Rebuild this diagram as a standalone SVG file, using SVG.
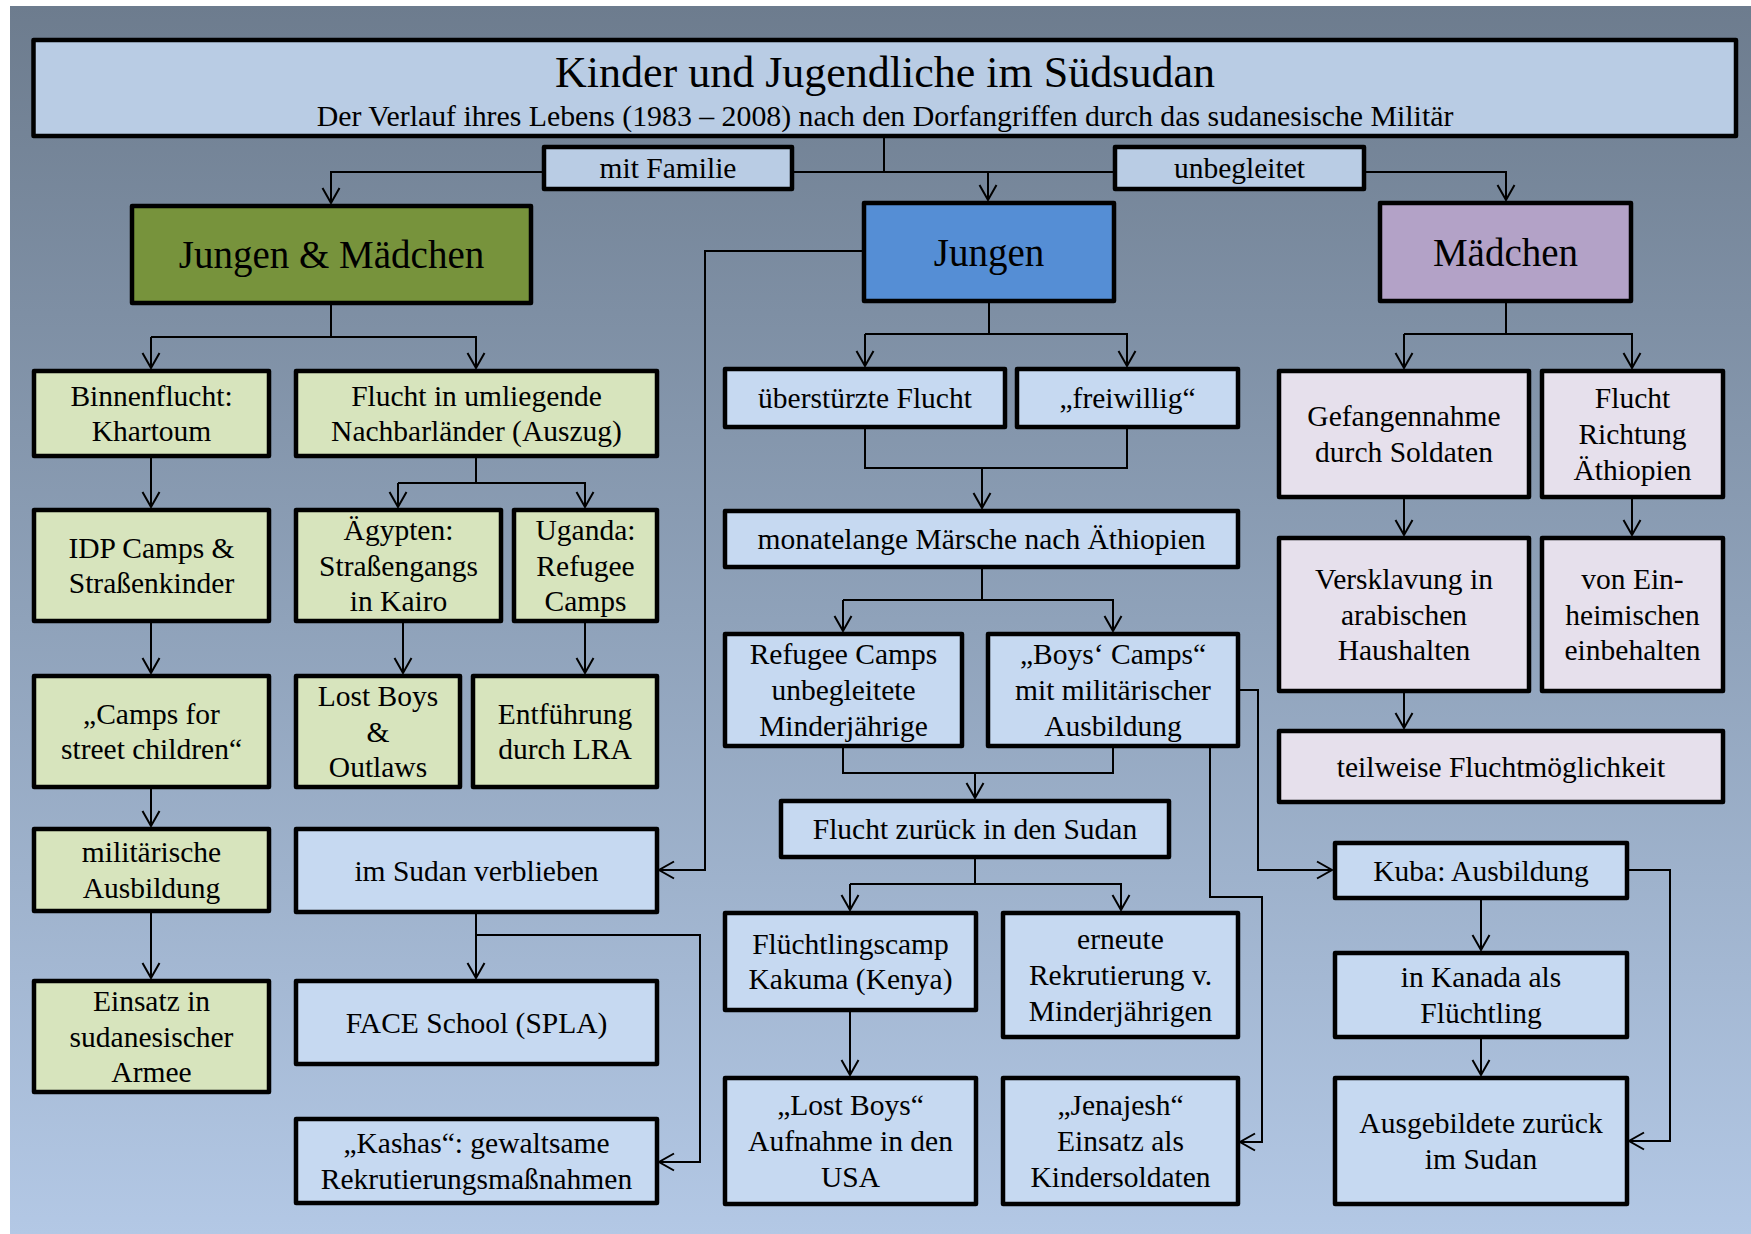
<svg xmlns="http://www.w3.org/2000/svg" width="1751" height="1234" viewBox="0 0 1751 1234">
<defs>
<linearGradient id="bg" x1="0" y1="0" x2="0" y2="1">
<stop offset="0" stop-color="#6d7c8e"/>
<stop offset="0.5" stop-color="#8fa2ba"/>
<stop offset="1" stop-color="#b3c8e5"/>
</linearGradient>
<marker id="ah" markerUnits="userSpaceOnUse" markerWidth="20" markerHeight="20" viewBox="-17 -10 20 20" refX="0" refY="0" orient="auto">
<path d="M-15,-8.5 L0,0 L-15,8.5" fill="none" stroke="#000" stroke-width="2"/>
</marker>
</defs>
<style>
.box{stroke:#000;stroke-width:4.5;stroke-linejoin:round}
.tb{fill:#b9cce4}
.bl{fill:#c6d9f1}
.gr{fill:#d7e4bd}
.pu{fill:#e6e0ec}
text{font-family:"Liberation Serif","Times New Roman",serif;font-size:29.5px;fill:#000;text-anchor:middle}
.h{font-size:39px}
.t1{font-size:44px}
.st{font-size:29.8px}
.c{fill:none;stroke:#000;stroke-width:2}
.a{marker-end:url(#ah)}
</style>
<rect x="10" y="6" width="1741" height="1228" fill="url(#bg)"/>

<g id="connectors">
<path class="c" d="M884,136 V172 M793,172 H1115"/>
<path class="c a" d="M988,172 V200"/>
<path class="c a" d="M544,172 H331 V203"/>
<path class="c a" d="M1364,172 H1506 V200"/>
<path class="c" d="M331,303 V337 H151"/>
<path class="c a" d="M151,337 V368"/>
<path class="c a" d="M331,337 H476 V368"/>
<path class="c a" d="M151,456 V507"/>
<path class="c" d="M476,456 V483 H398"/>
<path class="c a" d="M398,483 V507"/>
<path class="c a" d="M476,483 H585 V507"/>
<path class="c a" d="M151,621 V673"/>
<path class="c a" d="M403,621 V673"/>
<path class="c a" d="M585,621 V673"/>
<path class="c a" d="M151,787 V826"/>
<path class="c a" d="M151,911 V978"/>
<path class="c a" d="M864,251 H705 V870 H659"/>
<path class="c a" d="M476,912 V978"/>
<path class="c a" d="M476,935 H700 V1162 H659"/>
<path class="c" d="M989,301 V334 H865"/>
<path class="c a" d="M865,334 V366"/>
<path class="c a" d="M989,334 H1127 V366"/>
<path class="c" d="M865,427 V468 H1127 V427"/>
<path class="c a" d="M982,468 V508"/>
<path class="c" d="M982,567 V600 H843"/>
<path class="c a" d="M843,600 V631"/>
<path class="c a" d="M982,600 H1113 V631"/>
<path class="c" d="M843,746 V773 H1113 V746"/>
<path class="c a" d="M975,773 V798"/>
<path class="c" d="M975,857 V884 H850"/>
<path class="c a" d="M850,884 V910"/>
<path class="c a" d="M975,884 H1121 V910"/>
<path class="c a" d="M850,1010 V1075"/>
<path class="c a" d="M1238,690 H1258 V870 H1332"/>
<path class="c a" d="M1210,746 V897 H1262 V1142 H1240"/>
<path class="c" d="M1506,301 V334 H1404"/>
<path class="c a" d="M1404,334 V368"/>
<path class="c a" d="M1506,334 H1632 V368"/>
<path class="c a" d="M1404,497 V535"/>
<path class="c a" d="M1632,497 V535"/>
<path class="c a" d="M1404,691 V728"/>
<path class="c a" d="M1481,898 V950"/>
<path class="c a" d="M1481,1037 V1075"/>
<path class="c a" d="M1627,870 H1670 V1141 H1629"/>
</g>

<g id="title">
<rect class="box tb" x="33.5" y="40" width="1702.5" height="96" stroke-width="5"/>
<text class="t1" x="885" y="87">Kinder und Jugendliche im Südsudan</text>
<text class="st" x="885" y="125.5">Der Verlauf ihres Lebens (1983 – 2008) nach den Dorfangriffen durch das sudanesische Militär</text>
</g>
<g id="mit-familie">
<rect class="box tb" x="544" y="147" width="248" height="42"/>
<text x="668" y="178">mit Familie</text>
</g>
<g id="unbegleitet">
<rect class="box tb" x="1115" y="147" width="249" height="42"/>
<text x="1239.5" y="178">unbegleitet</text>
</g>
<g id="jungen-maedchen">
<rect class="box" fill="#77933c" x="132" y="206" width="399" height="97"/>
<text class="h" x="331.5" y="268">Jungen &amp; Mädchen</text>
</g>
<g id="jungen">
<rect class="box" fill="#558ed5" x="864" y="203" width="250" height="98"/>
<text class="h" x="989" y="265.5">Jungen</text>
</g>
<g id="maedchen">
<rect class="box" fill="#b3a2c7" x="1380" y="203" width="251" height="98"/>
<text class="h" x="1505.5" y="265.5">Mädchen</text>
</g>

<g id="binnenflucht">
<rect class="box gr" x="34" y="371" width="235" height="85"/>
<text x="151.5" y="405.6">Binnenflucht:<tspan x="151.5" dy="35.7">Khartoum</tspan></text>
</g>
<g id="flucht-umliegend">
<rect class="box gr" x="296" y="371" width="361" height="85"/>
<text x="476.5" y="405.6">Flucht in umliegende<tspan x="476.5" dy="35.7">Nachbarländer (Auszug)</tspan></text>
</g>
<g id="idp">
<rect class="box gr" x="34" y="510" width="235" height="111"/>
<text x="151.5" y="557.6">IDP Camps &amp;<tspan x="151.5" dy="35.7">Straßenkinder</tspan></text>
</g>
<g id="aegypten">
<rect class="box gr" x="296" y="510" width="205" height="111"/>
<text x="398.5" y="539.8">Ägypten:<tspan x="398.5" dy="35.7">Straßengangs</tspan><tspan x="398.5" dy="35.7">in Kairo</tspan></text>
</g>
<g id="uganda">
<rect class="box gr" x="514" y="510" width="143" height="111"/>
<text x="585.5" y="539.8">Uganda:<tspan x="585.5" dy="35.7">Refugee</tspan><tspan x="585.5" dy="35.7">Camps</tspan></text>
</g>
<g id="camps-street">
<rect class="box gr" x="34" y="676" width="235" height="111"/>
<text x="151.5" y="723.6">„Camps for<tspan x="151.5" dy="35.7">street children“</tspan></text>
</g>
<g id="lost-boys-outlaws">
<rect class="box gr" x="296" y="676" width="164" height="111"/>
<text x="378" y="705.8">Lost Boys<tspan x="378" dy="35.7">&amp;</tspan><tspan x="378" dy="35.7">Outlaws</tspan></text>
</g>
<g id="entfuehrung">
<rect class="box gr" x="473" y="676" width="184" height="111"/>
<text x="565" y="723.6">Entführung<tspan x="565" dy="35.7">durch LRA</tspan></text>
</g>
<g id="militaerische">
<rect class="box gr" x="34" y="829" width="235" height="82"/>
<text x="151.5" y="862.1">militärische<tspan x="151.5" dy="35.7">Ausbildung</tspan></text>
</g>
<g id="einsatz">
<rect class="box gr" x="34" y="981" width="235" height="111"/>
<text x="151.5" y="1010.8">Einsatz in<tspan x="151.5" dy="35.7">sudanesischer</tspan><tspan x="151.5" dy="35.7">Armee</tspan></text>
</g>
<g id="im-sudan">
<rect class="box bl" x="296" y="829" width="361" height="83"/>
<text x="476.5" y="880.5">im Sudan verblieben</text>
</g>
<g id="face">
<rect class="box bl" x="296" y="981" width="361" height="83"/>
<text x="476.5" y="1032.5">FACE School (SPLA)</text>
</g>
<g id="kashas">
<rect class="box bl" x="296" y="1119" width="361" height="84"/>
<text x="476.5" y="1153.1">„Kashas“: gewaltsame<tspan x="476.5" dy="35.7">Rekrutierungsmaßnahmen</tspan></text>
</g>

<g id="ueberstuerzt">
<rect class="box bl" x="725" y="369" width="280" height="58"/>
<text x="865" y="408">überstürzte Flucht</text>
</g>
<g id="freiwillig">
<rect class="box bl" x="1017" y="369" width="221" height="58"/>
<text x="1127.5" y="408">„freiwillig“</text>
</g>
<g id="maersche">
<rect class="box bl" x="725" y="511" width="513" height="56"/>
<text x="981.5" y="549">monatelange Märsche nach Äthiopien</text>
</g>
<g id="refugee">
<rect class="box bl" x="725" y="634" width="237" height="112"/>
<text x="843.5" y="664.3">Refugee Camps<tspan x="843.5" dy="35.7">unbegleitete</tspan><tspan x="843.5" dy="35.7">Minderjährige</tspan></text>
</g>
<g id="boys-camps">
<rect class="box bl" x="988" y="634" width="250" height="112"/>
<text x="1113" y="664.3">„Boys‘ Camps“<tspan x="1113" dy="35.7">mit militärischer</tspan><tspan x="1113" dy="35.7">Ausbildung</tspan></text>
</g>
<g id="flucht-zurueck">
<rect class="box bl" x="781" y="801" width="388" height="56"/>
<text x="975" y="839">Flucht zurück in den Sudan</text>
</g>
<g id="kakuma">
<rect class="box bl" x="725" y="913" width="251" height="97"/>
<text x="850.5" y="953.6">Flüchtlingscamp<tspan x="850.5" dy="35.7">Kakuma (Kenya)</tspan></text>
</g>
<g id="erneute">
<rect class="box bl" x="1003" y="913" width="235" height="124"/>
<text x="1120.5" y="949.3">erneute<tspan x="1120.5" dy="35.7">Rekrutierung v.</tspan><tspan x="1120.5" dy="35.7">Minderjährigen</tspan></text>
</g>
<g id="lost-boys-usa">
<rect class="box bl" x="725" y="1078" width="251" height="126"/>
<text x="850.5" y="1115.3">„Lost Boys“<tspan x="850.5" dy="35.7">Aufnahme in den</tspan><tspan x="850.5" dy="35.7">USA</tspan></text>
</g>
<g id="jenajesh">
<rect class="box bl" x="1003" y="1078" width="235" height="126"/>
<text x="1120.5" y="1115.3">„Jenajesh“<tspan x="1120.5" dy="35.7">Einsatz als</tspan><tspan x="1120.5" dy="35.7">Kindersoldaten</tspan></text>
</g>

<g id="gefangennahme">
<rect class="box pu" x="1279" y="371" width="250" height="126"/>
<text x="1404" y="426.1">Gefangennahme<tspan x="1404" dy="35.7">durch Soldaten</tspan></text>
</g>
<g id="flucht-richtung">
<rect class="box pu" x="1542" y="371" width="181" height="126"/>
<text x="1632.5" y="408.3">Flucht<tspan x="1632.5" dy="35.7">Richtung</tspan><tspan x="1632.5" dy="35.7">Äthiopien</tspan></text>
</g>
<g id="versklavung">
<rect class="box pu" x="1279" y="538" width="250" height="153"/>
<text x="1404" y="588.8">Versklavung in<tspan x="1404" dy="35.7">arabischen</tspan><tspan x="1404" dy="35.7">Haushalten</tspan></text>
</g>
<g id="einheimischen">
<rect class="box pu" x="1542" y="538" width="181" height="153"/>
<text x="1632.5" y="588.8">von Ein-<tspan x="1632.5" dy="35.7">heimischen</tspan><tspan x="1632.5" dy="35.7">einbehalten</tspan></text>
</g>
<g id="teilweise">
<rect class="box pu" x="1279" y="731" width="444" height="71"/>
<text x="1501" y="776.5">teilweise Fluchtmöglichkeit</text>
</g>
<g id="kuba">
<rect class="box bl" x="1335" y="843" width="292" height="55"/>
<text x="1481" y="880.5">Kuba: Ausbildung</text>
</g>
<g id="kanada">
<rect class="box bl" x="1335" y="953" width="292" height="84"/>
<text x="1481" y="987.1">in Kanada als<tspan x="1481" dy="35.7">Flüchtling</tspan></text>
</g>
<g id="ausgebildete">
<rect class="box bl" x="1335" y="1078" width="292" height="126"/>
<text x="1481" y="1133.1">Ausgebildete zurück<tspan x="1481" dy="35.7">im Sudan</tspan></text>
</g>
</svg>
